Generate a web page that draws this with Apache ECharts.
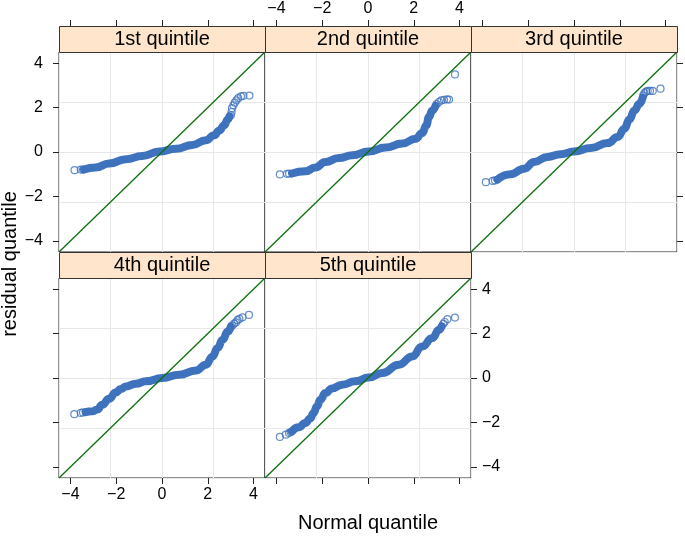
<!DOCTYPE html>
<html><head><meta charset="utf-8">
<script src="https://cdn.jsdelivr.net/npm/echarts@6/dist/echarts.min.js"></script>
<style>html,body{margin:0;padding:0;background:#fff}#c{width:685px;height:536px}</style>
</head><body><div id="c"></div>
<script>
const panelNames = ['1st quintile', '2nd quintile', '3rd quintile', '4th quintile', '5th quintile'];
const xTicks = [-4, -2, 0, 2, 4];
const yTicks = [-4, -2, 0, 2, 4];
const refLine = [[-4.5, -4.5], [4.5, 4.5]];

const band1 = [[-3.41,-0.79],[-2.90,-0.70],[-2.31,-0.52],[-1.58,-0.33],[-0.86,-0.18],[-0.12,0.02],[0.61,0.15],[1.33,0.32],[1.92,0.53],[2.28,0.75],[2.50,0.97],[2.72,1.20],[2.87,1.46],[2.95,1.60]];
const tail1 = [[-3.82,-0.82],[-3.55,-0.79],[-3.45,-0.79],[3.01,1.65],[3.04,1.80],[3.06,1.97],[3.12,2.10],[3.18,2.22],[3.25,2.32],[3.33,2.42],[3.45,2.50],[3.56,2.53],[3.82,2.54]];

const band2 = [[-3.32,-0.97],[-2.74,-0.87],[-2.30,-0.70],[-1.86,-0.45],[-1.28,-0.27],[-0.69,-0.15],[0.03,0.02],[0.76,0.20],[1.50,0.38],[2.08,0.60],[2.37,0.85],[2.55,1.20],[2.66,1.57],[2.81,1.87],[2.95,2.08]];
const tail2 = [[-3.85,-1.01],[-3.54,-0.98],[-3.45,-0.97],[3.00,2.15],[3.10,2.25],[3.20,2.32],[3.32,2.35],[3.45,2.37],[3.54,2.36],[3.80,3.49]];

const band3 = [[-3.35,-1.24],[-2.77,-1.00],[-2.18,-0.75],[-1.74,-0.45],[-1.16,-0.22],[-0.58,-0.10],[0.00,0.02],[0.74,0.18],[1.47,0.40],[1.91,0.67],[2.20,1.05],[2.42,1.46],[2.64,1.87],[2.86,2.17],[3.00,2.45]];
const tail3 = [[-3.85,-1.36],[-3.55,-1.30],[-3.45,-1.28],[3.03,2.55],[3.08,2.65],[3.15,2.72],[3.22,2.75],[3.32,2.75],[3.44,2.75],[3.78,2.85]];

const band4 = [[-3.34,-1.54],[-3.05,-1.50],[-2.83,-1.42],[-2.61,-1.20],[-2.31,-0.93],[-2.02,-0.65],[-1.80,-0.50],[-1.58,-0.38],[-1.15,-0.26],[-0.71,-0.15],[0.02,0.00],[0.75,0.15],[1.48,0.34],[1.92,0.60],[2.21,0.97],[2.43,1.35],[2.65,1.72],[2.87,2.09],[3.01,2.32]];
const tail4 = [[-3.83,-1.63],[-3.55,-1.57],[-3.45,-1.55],[3.08,2.36],[3.15,2.45],[3.23,2.50],[3.30,2.60],[3.38,2.66],[3.52,2.73],[3.80,2.84]];

const band5 = [[-3.32,-2.40],[-3.03,-2.22],[-2.74,-2.02],[-2.52,-1.82],[-2.38,-1.57],[-2.23,-1.28],[-2.08,-0.98],[-1.86,-0.68],[-1.57,-0.47],[-1.13,-0.30],[-0.55,-0.15],[0.03,0.02],[0.62,0.22],[1.35,0.60],[1.93,0.97],[2.37,1.42],[2.81,1.80],[3.10,2.17],[3.22,2.33]];
const tail5 = [[-3.85,-2.65],[-3.59,-2.55],[-3.45,-2.48],[-3.38,-2.43],[3.29,2.44],[3.35,2.52],[3.47,2.65],[3.80,2.72]];

const bands = [band1, band2, band3, band4, band5];
const tails = [tail1, tail2, tail3, tail4, tail5];

const colLeft = [59, 265, 471], W = 206, rowTop = [52, 278], H = 200, STRIP = 26;
const panelPos = [[0,0],[0,1],[0,2],[1,0],[1,1]];
const BLUE = '#3f72bd', FONT = 'Liberation Sans, Arial, Helvetica, sans-serif';
const fmt = v => String(v).replace('-', '\u2212');

const grids = [], xAxes = [], yAxes = [], series = [], graphics = [];
panelPos.forEach(([r, c], i) => {
  grids.push({left: colLeft[c], top: rowTop[r], width: W, height: H, show: true,
    borderColor: '#222', borderWidth: 1, backgroundColor: 'transparent', containLabel: false});
  const mainAxis = {min: -4.5, max: 4.5, interval: 2.25, gridIndex: i,
    axisLine: {show: false, onZero: false}, axisTick: {show: false}, axisLabel: {show: false},
    splitLine: {show: true, lineStyle: {color: '#e8e8e8', width: 1}}};
  xAxes.push(Object.assign({type: 'value', position: 'bottom'}, mainAxis));
  yAxes.push(Object.assign({type: 'value', position: 'left'}, mainAxis));
  graphics.push({type: 'rect', shape: {x: colLeft[c] + 0.5, y: rowTop[r] - STRIP + 0.5, width: W, height: STRIP},
    style: {fill: '#ffe5cc', stroke: '#333', lineWidth: 1}, z: 10});
  graphics.push({type: 'text', x: colLeft[c] + W / 2, y: rowTop[r] - STRIP / 2,
    style: {text: panelNames[i], fontSize: 20, fontFamily: FONT, fill: '#000', align: 'center', verticalAlign: 'middle'}, z: 11});
  series.push({type: 'line', xAxisIndex: i, yAxisIndex: i, data: bands[i], showSymbol: false,
    smooth: true, smoothMonotone: 'x', silent: true,
    lineStyle: {color: BLUE, width: 8, cap: 'round', join: 'round'}, z: 2});
  series.push({type: 'scatter', xAxisIndex: i, yAxisIndex: i, data: tails[i], symbol: 'circle', symbolSize: 7,
    itemStyle: {color: 'rgba(0,0,0,0)', borderColor: BLUE, borderWidth: 1.2}, silent: true, z: 3});
  series.push({type: 'line', xAxisIndex: i, yAxisIndex: i, data: refLine, showSymbol: false, silent: true,
    color: '#0b700b', itemStyle: {color: '#0b700b'},
    lineStyle: {color: '#0b700b', width: 1.3}, z: 4});
});

function tickAxis(kind, gridIndex, position, labels, offset, margin) {
  return {type: 'value', gridIndex, position, offset: offset || 0, min: -4.5, max: 4.5,
    axisLine: {show: false, onZero: false}, splitLine: {show: false},
    axisTick: {show: true, length: 6, inside: false, customValues: kind === 'x' ? xTicks : yTicks, lineStyle: {color: '#222'}},
    axisLabel: {show: labels, customValues: kind === 'x' ? xTicks : yTicks, formatter: fmt, fontSize: 16,
      fontFamily: FONT, color: '#000', margin: margin}};
}
xAxes.push(tickAxis('x', 0, 'top', false, STRIP, 8));
xAxes.push(tickAxis('x', 1, 'top', true, STRIP, 9));
xAxes.push(tickAxis('x', 2, 'top', false, STRIP, 8));
xAxes.push(tickAxis('x', 3, 'bottom', true, 0, 9));
xAxes.push(tickAxis('x', 4, 'bottom', false, 0, 8));
yAxes.push(tickAxis('y', 0, 'left', true, 0, 16));
yAxes.push(tickAxis('y', 3, 'left', false, 0, 16));
yAxes.push(tickAxis('y', 2, 'right', false, 0, 11));
yAxes.push(tickAxis('y', 4, 'right', true, 0, 11));

graphics.push({type: 'text', x: 368, y: 523, style: {text: 'Normal quantile', fontSize: 20, fontFamily: FONT, fill: '#000', align: 'center', verticalAlign: 'middle'}});
graphics.push({type: 'text', x: 10, y: 264, rotation: Math.PI / 2, style: {text: 'residual quantile', fontSize: 20, fontFamily: FONT, fill: '#000', align: 'center', verticalAlign: 'middle'}});

const chart = echarts.init(document.getElementById('c'), null, {renderer: 'canvas'});
chart.setOption({animation: false, grid: grids, xAxis: xAxes, yAxis: yAxes, series, graphic: graphics});
</script></body></html>
